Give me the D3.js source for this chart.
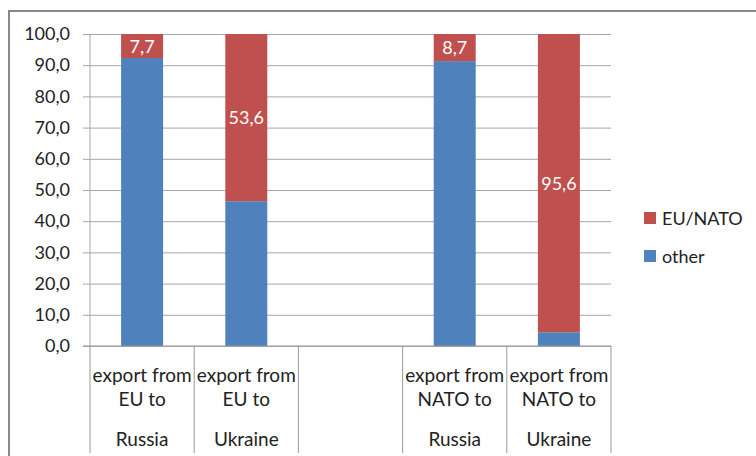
<!DOCTYPE html>
<html>
<head>
<meta charset="utf-8">
<script src="https://cdn.jsdelivr.net/npm/d3@7"></script>
<style>
  body { margin: 0; background: #fff; }
  svg text { font-family: Lato, "Open Sans", sans-serif; fill: #222; }
</style>
</head>
<body>
<svg id="chart"></svg>
<script>
// categories (an empty slot separates the EU and NATO groups)
const categories = ['euRu', 'euUa', 'gap', 'natoRu', 'natoUa'];
const catLines = [
  ['export from', 'EU to', 'Russia'],
  ['export from', 'EU to', 'Ukraine'],
  [],
  ['export from', 'NATO to', 'Russia'],
  ['export from', 'NATO to', 'Ukraine']
];
const otherValues = [92.3, 46.4, null, 91.3, 4.4];
const euNatoValues = [7.7, 53.6, null, 8.7, 95.6];
const seriesNames = ['EU/NATO', 'other'];
const yTicks = [0, 10, 20, 30, 40, 50, 60, 70, 80, 90, 100];

const W = 756, H = 456;
const blue = '#4F81BD', red = '#C0504D';
const fmt = d3.formatLocale({decimal: ',', thousands: '.', grouping: [3], currency: ['', '']}).format('.1f');

const svg = d3.select('#chart')
  .attr('width', W)
  .attr('height', H)
  .attr('viewBox', `0 0 ${W} ${H}`);

// outer chart frame
svg.append('path')
  .attr('d', `M9,${H} V11 H${W}`)
  .attr('fill', 'none')
  .attr('stroke', '#888')
  .attr('stroke-width', 2);

const plotLeft = 90, plotRight = 611, plotTop = 34, plotBottom = 346;

const x = d3.scaleBand()
  .domain(categories)
  .range([plotLeft, plotRight])
  .paddingInner(0)
  .paddingOuter(0);

const y = d3.scaleLinear()
  .domain([0, 100])
  .range([plotBottom, plotTop]);

// gridlines + y tick labels
const yAxis = svg.append('g')
  .attr('transform', `translate(${plotLeft},0)`)
  .call(d3.axisLeft(y)
    .tickValues(yTicks)
    .tickFormat(fmt)
    .tickSize(7)
    .tickPadding(13));
yAxis.select('.domain').remove();
yAxis.selectAll('.tick line').attr('stroke', '#a6a6a6');
yAxis.selectAll('.tick text')
  .attr('font-size', 18)
  .attr('font-family', 'Lato, sans-serif')
  .attr('fill', '#222');
yAxis.selectAll('.tick').append('line')
  .attr('x1', 0).attr('x2', plotRight - plotLeft)
  .attr('stroke', '#a6a6a6');

// y axis line
svg.append('line')
  .attr('x1', plotLeft).attr('x2', plotLeft)
  .attr('y1', plotTop).attr('y2', plotBottom)
  .attr('stroke', '#a6a6a6');

// bars
const barW = 42;
const data = categories.map((c, i) => ({cat: c, other: otherValues[i], eu: euNatoValues[i]}))
  .filter(d => d.other != null);

const bars = svg.append('g').selectAll('g')
  .data(data)
  .enter()
  .append('g');

bars.append('rect')
  .attr('x', d => x(d.cat) + (x.bandwidth() - barW) / 2)
  .attr('width', barW)
  .attr('y', d => y(d.other))
  .attr('height', d => plotBottom - y(d.other))
  .attr('fill', blue);

bars.append('rect')
  .attr('x', d => x(d.cat) + (x.bandwidth() - barW) / 2)
  .attr('width', barW)
  .attr('y', d => y(d.other + d.eu))
  .attr('height', d => y(d.other) - y(d.other + d.eu))
  .attr('fill', red);

bars.append('text')
  .attr('x', d => x(d.cat) + x.bandwidth() / 2)
  .attr('y', d => (y(d.other) + y(d.other + d.eu)) / 2)
  .attr('dy', '0.38em')
  .attr('text-anchor', 'middle')
  .attr('font-size', 18)
  .style('fill', '#fff')
  .text(d => fmt(d.eu));

// x axis line and category separators
svg.append('line')
  .attr('x1', plotLeft - 7).attr('x2', plotRight)
  .attr('y1', plotBottom).attr('y2', plotBottom)
  .attr('stroke', '#999');

const seps = categories.map(c => x(c)).concat([plotRight]);
svg.append('g').selectAll('line')
  .data(seps)
  .enter()
  .append('line')
  .attr('x1', d => d).attr('x2', d => d)
  .attr('y1', plotBottom).attr('y2', 453)
  .attr('stroke', '#999');

// category labels
const lineY = [382, 406, 446];
svg.append('g').selectAll('text')
  .data(categories)
  .enter()
  .append('text')
  .attr('text-anchor', 'middle')
  .attr('font-size', 19)
  .each(function (c, i) {
    const t = d3.select(this);
    catLines[i].forEach((line, j) => {
      t.append('tspan')
        .attr('x', x(c) + x.bandwidth() / 2)
        .attr('y', lineY[j])
        .text(line);
    });
  });

// legend
const legend = svg.append('g')
  .selectAll('g')
  .data(seriesNames)
  .enter()
  .append('g')
  .attr('transform', (d, i) => `translate(644, ${212 + i * 38})`);

legend.append('rect')
  .attr('width', 12).attr('height', 12)
  .attr('fill', (d, i) => i === 0 ? red : blue);

legend.append('text')
  .attr('x', 18)
  .attr('y', 13)
  .attr('font-size', 18)
  .text(d => d);
</script>
</body>
</html>
